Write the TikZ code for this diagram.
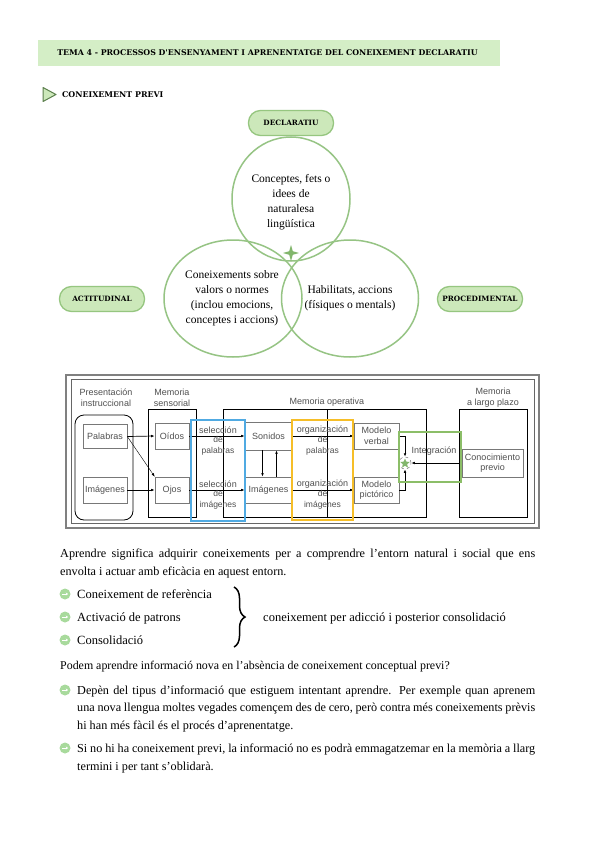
\documentclass[tikz,border=0pt]{standalone}
\usepackage{fontspec}
\setmainfont{Liberation Serif}
\newfontfamily\hdrfont{DejaVu Serif}
\newfontfamily\figsans{Liberation Sans}
\usetikzlibrary{shapes.geometric,arrows.meta,decorations.pathreplacing}
\definecolor{hdrgreen}{RGB}{212,238,198}
\definecolor{pillfill}{RGB}{204,232,186}
\definecolor{pilldraw}{RGB}{150,198,128}
\definecolor{venn}{RGB}{150,196,132}
\definecolor{startc}{RGB}{130,182,108}
\definecolor{figblue}{RGB}{80,170,226}
\definecolor{figorange}{RGB}{246,190,40}
\definecolor{figgreen}{RGB}{140,190,104}
\definecolor{bulc}{RGB}{168,218,156}
\definecolor{figtext}{RGB}{80,80,80}
\definecolor{boxgray}{RGB}{120,120,120}
\newcommand{\parfont}{\fontsize{12.2}{18}\selectfont\spaceskip=0.25em plus 0.25em minus 0.12em\relax}
\newcommand{\parfontb}{\fontsize{12.2}{17.5}\selectfont\spaceskip=0.25em plus 0.25em minus 0.12em\relax}
\begin{document}
\begin{tikzpicture}[x=1pt,y=-1pt,
  hdrtxt/.style={font=\hdrfont\bfseries\fontsize{7.85}{9}\selectfont, inner sep=0},
  pill/.style={draw=pilldraw, fill=pillfill, line width=1.3pt, rounded corners=12pt, minimum width=85pt, minimum height=25pt, inner sep=0, font=\hdrfont\bfseries\fontsize{7.3}{8}\selectfont},
  vennc/.style={ellipse, draw=venn, line width=1.5pt, inner sep=0},
  venntxt/.style={align=center, font=\fontsize{11.5}{15}\selectfont, inner sep=0},
  fbox/.style={draw=boxgray, line width=0.6pt, inner sep=0, font=\figsans\fontsize{9}{10.5}\selectfont, text=figtext, align=center},
  ftxt/.style={font=\figsans\fontsize{9}{11}\selectfont, text=figtext, align=center, inner sep=0},
  subtxt/.style={font=\figsans\fontsize{8.5}{10.5}\selectfont, text=figtext, align=center, inner sep=0},
  memrect/.style={draw=black, line width=0.8pt},
  farr/.style={draw=black, line width=0.7pt, -{Latex[length=3.5pt,width=2.6pt]}},
  body/.style={font=\fontsize{12.5}{18}\selectfont, inner sep=0},
  para/.style={font=\parfont, inner sep=0, anchor=north west, align=justify},
  parab/.style={font=\parfontb, inner sep=0, anchor=north west, align=justify},
  bullet/.style={circle, fill=bulc, minimum size=11pt, inner sep=0}
]
\useasboundingbox (0,0) rectangle (600,848);
\fill[white] (0,0) rectangle (600,848);

% Header
\node[fill=hdrgreen, minimum width=462pt, minimum height=26pt, inner sep=0, anchor=north west] (hdr) at (38,40) {};
\node[hdrtxt] (hdrt) at (267.5,53) {TEMA 4 - PROCESSOS D'ENSENYAMENT I APRENENTATGE DEL CONEIXEMENT DECLARATIU};

% Section title
\coordinate (tri1) at (43,87.5);
\coordinate (tri2) at (56,94.5);
\coordinate (tri3) at (43,101.5);
\draw[fill=pillfill, draw=startc!70!black, line width=1pt, line join=round] (tri1) -- (tri2) -- (tri3) -- cycle;
\node[hdrtxt, font=\hdrfont\bfseries\fontsize{7.9}{9}\selectfont, anchor=west] (sec) at (62,94.5) {CONEIXEMENT PREVI};

% Venn
\node[pill] (decl) at (291,123) {DECLARATIU};
\node[pill] (acti) at (102,299) {ACTITUDINAL};
\node[pill] (proc) at (480,299) {PROCEDIMENTAL};
\node[vennc, minimum width=118pt, minimum height=124pt] (ctop) at (291,199) {};
\node[vennc, minimum width=138pt, minimum height=117pt] (cleft) at (233,298.5) {};
\node[vennc, minimum width=137pt, minimum height=117pt] (cright) at (350,298.5) {};
\node[venntxt] (ttop) at (291,202.5) {Conceptes, fets o\\idees de\\naturalesa\\lingüística};
\node[venntxt] (tleft) at (232,298) {Coneixements sobre\\valors o normes\\(inclou emocions,\\conceptes i accions)};
\node[venntxt] (tright) at (350,298) {Habilitats, accions\\(físiques o mentals)};
\fill[startc] (291,245) -- (292.8,251.2) -- (299,253) -- (292.8,254.8) -- (291,261) -- (289.2,254.8) -- (283,253) -- (289.2,251.2) -- cycle;

% Figure frame
\draw[draw=gray, line width=1.4pt] (66,375) rectangle (539,528);
\draw[draw=gray!80!black, line width=0.6pt] (71,379) rectangle (534,523);

% Column labels
\node[ftxt] (lpres) at (106,397.5) {Presentación\\instruccional};
\node[ftxt] (lsens) at (172,397.5) {Memoria\\sensorial};
\node[ftxt] (loper) at (327,402) {Memoria operativa};
\node[ftxt] (llarg) at (493,397.5) {Memoria\\a largo plazo};

% Memory rectangles
\draw[memrect, rounded corners=9pt] (75,415) rectangle (133,520);
\draw[memrect] (148,409) rectangle (196,517);
\draw[memrect] (223,409) rectangle (426,517);
\draw[memrect] (327,409) -- (327,517);
\draw[memrect] (459,409) rectangle (527,517);

% Boxes
\node[fbox, minimum width=44pt, minimum height=24pt] (pal) at (105,436.5) {Palabras};
\node[fbox, minimum width=44pt, minimum height=26pt] (img1) at (105,490) {Imágenes};
\node[fbox, minimum width=34pt, minimum height=26pt] (oid) at (172,436) {Oídos};
\node[fbox, minimum width=34pt, minimum height=26pt] (ojo) at (172,490) {Ojos};
\node[fbox, minimum width=47pt, minimum height=28pt] (son) at (268.5,436) {Sonidos};
\node[fbox, minimum width=47pt, minimum height=26pt] (img2) at (268.5,490) {Imágenes};
\node[fbox, minimum width=45pt, minimum height=26pt] (mverb) at (376.5,436) {Modelo\\verbal};
\node[fbox, minimum width=45pt, minimum height=26pt] (mpict) at (376.5,490) {Modelo\\pictórico};
\node[fbox, minimum width=61pt, minimum height=28pt] (conoc) at (492.5,463) {Conocimiento\\previo};

% Arrows
\draw[farr] (pal.east) -- (oid.west);
\draw[farr, line width=0.4pt] (pal.east) -- (ojo.north west);
\draw[farr] (img1.east) -- (ojo.west);
\draw[farr] (oid.east) -- (son.west);
\draw[farr] (ojo.east) -- (img2.west);
\draw[farr] (son.east) -- (mverb.west);
\draw[farr] (img2.east) -- (mpict.west);
\draw[farr] ([xshift=-6pt]son.south) -- ([xshift=-6pt]img2.north);
\draw[farr] ([xshift=8pt]img2.north) -- ([xshift=8pt]son.south);

% Arrow labels
\node[ftxt] (sel1) at (218,430) {selección};
\node[subtxt] (sel1b) at (218,446) {de\\palabras};
\node[ftxt] (sel2) at (218,484) {selección};
\node[subtxt] (sel2b) at (218,500) {de\\imágenes};
\node[ftxt] (org1) at (322.5,430) {organización};
\node[subtxt] (org1b) at (322.5,446) {de\\palabras};
\node[ftxt] (org2) at (322.5,484) {organización};
\node[subtxt] (org2b) at (322.5,500) {de\\imágenes};

% Integration
\node[circle, draw=boxgray, dashed, line width=0.5pt, minimum size=12pt, inner sep=0] (integ) at (405,463) {};
\node[star, star points=5, star point ratio=2.2, fill=startc, minimum size=10pt, inner sep=0] (istar) at (405,463.5) {};
\node[ftxt] (ltint) at (434,451) {Integración};
\coordinate (jv) at (405,436);
\coordinate (jp) at (405,490);
\draw[farr] (mverb.east) -- (jv) -- (integ.north);
\draw[farr] (mpict.east) -- (jp) -- (integ.south);
\draw[farr] (conoc.west) -- (integ.east);

% Colored highlight rectangles
\draw[figblue, line width=1.6pt] (191,420) rectangle (245,521);
\draw[figorange, line width=1.6pt] (292,420) rectangle (353,520);
\draw[figgreen, line width=1.6pt] (399,432) rectangle (461,482);

% Body text
\node[para, text width=475pt] (p1) at (60,548.5) {Aprendre significa adquirir coneixements per a comprendre l'entorn natural i social que ens\linebreak envolta i actuar amb eficàcia en aquest entorn.};

\node[bullet] (b1) at (65,594) {};
\node[bullet] (b2) at (65,617) {};
\node[bullet] (b3) at (65,640) {};
\foreach \b in {b1,b2,b3}{
  \draw[white, line width=0.9pt, -{Stealth[length=2.2pt,width=3pt]}] ([xshift=-3pt]\b.center) -- ([xshift=3pt]\b.center);
}
\node[body, anchor=base west] (t1) at (77,598) {Coneixement de referència};
\node[body, anchor=base west] (t2) at (77,621) {Activació de patrons};
\node[body, anchor=base west] (t3) at (77,644) {Consolidació};
\coordinate (brtop) at (234,587);
\coordinate (brbot) at (234,647);
\draw[line width=1.5pt, decorate, decoration={brace, amplitude=11pt, aspect=0.5}] (brtop) -- (brbot);
\node[body, anchor=base west] (t4) at (263,621) {coneixement per adicció i posterior consolidació};

\node[body, font=\fontsize{11.9}{18}\selectfont, anchor=base west] (q) at (60,669) {Podem aprendre informació nova en l'absència de coneixement conceptual previ?};

\node[bullet] (b4) at (65,690) {};
\node[bullet] (b5) at (65,748) {};
\foreach \b in {b4,b5}{
  \draw[white, line width=0.9pt, -{Stealth[length=2.2pt,width=3pt]}] ([xshift=-3pt]\b.center) -- ([xshift=3pt]\b.center);
}
\node[parab, text width=458pt] (p2) at (77,685.5) {Depèn del tipus d'informació que estiguem intentant aprendre. Per exemple quan aprenem\linebreak una nova llengua moltes vegades començem des de cero, però contra més coneixements prèvis\linebreak hi han més fàcil és el procés d'aprenentatge.};
\node[para, text width=458pt] (p3) at (77,743.5) {Si no hi ha coneixement previ, la informació no es podrà emmagatzemar en la memòria a llarg\linebreak termini i per tant s'oblidarà.};
\end{tikzpicture}
\end{document}
